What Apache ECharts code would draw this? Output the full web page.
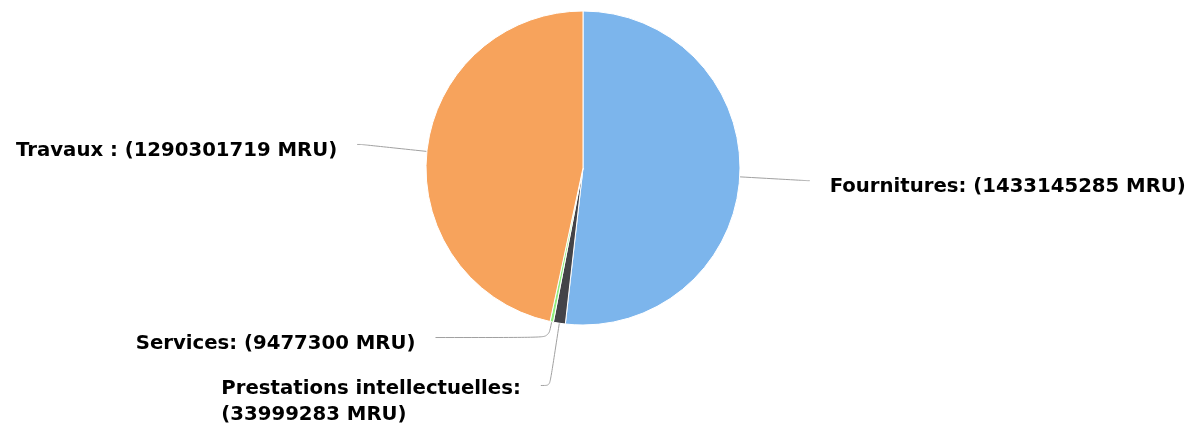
<!DOCTYPE html>
<html>
<head>
<meta charset="utf-8">
<script src="https://cdn.jsdelivr.net/npm/echarts@6/dist/echarts.min.js"></script>
<style>
html,body{margin:0;padding:0;background:#fff;}
#chart{width:1192px;height:432px;}
</style>
</head>
<body>
<div id="chart"></div>
<script>
var categories = ['Fournitures', 'Prestations intellectuelles', 'Services', 'Travaux'];
var values = [1433145285, 33999283, 9477300, 1290301719];
var labelPrefixes = ['Fournitures: ', 'Prestations intellectuelles:', 'Services: ', 'Travaux : '];
var colors = ['#7cb5ec', '#434348', '#90ed7d', '#f7a35c'];

var lineLens = [[68, 2], [63, 9], [16, 113], [66, 4]];

var data = categories.map(function (c, i) {
  return {
    name: c,
    value: values[i],
    itemStyle: { color: colors[i] },
    labelLine: { length: lineLens[i][0], length2: lineLens[i][1] }
  };
});

var txt = { align: 'left', fontFamily: 'DejaVu Sans', fontWeight: 'bold', fontSize: 19.7, color: '#000', lineHeight: 26 };

var chart = echarts.init(document.getElementById('chart'));
chart.setOption({
  animation: false,
  series: [{
    type: 'pie',
    center: [583, 168],
    radius: 157,
    startAngle: 90,
    clockwise: true,
    avoidLabelOverlap: false,
    itemStyle: { borderColor: '#fff', borderWidth: 1 },
    label: {
      show: true,
      position: 'outside',
      fontFamily: 'DejaVu Sans',
      fontWeight: 'bold',
      fontSize: 19.7,
      color: '#000',
      distanceToLabelLine: 20,
      formatter: function (p) {
        if (p.dataIndex === 1) {
          return '{s| }\n{a|' + labelPrefixes[1] + '}\n{a|(' + p.value + ' MRU)}';
        }
        return '{t| }\n{a|' + labelPrefixes[p.dataIndex] + '(' + p.value + ' MRU)}';
      },
      rich: {
        a: txt,
        s: { fontSize: 10, lineHeight: 32 },
        t: { fontSize: 8, lineHeight: 13 }
      }
    },
    labelLine: {
      show: true,
      smooth: 0.3,
      lineStyle: { color: '#a0a0a0', width: 1 }
    },
    emphasis: { disabled: true },
    data: data
  }]
});
</script>
</body>
</html>
